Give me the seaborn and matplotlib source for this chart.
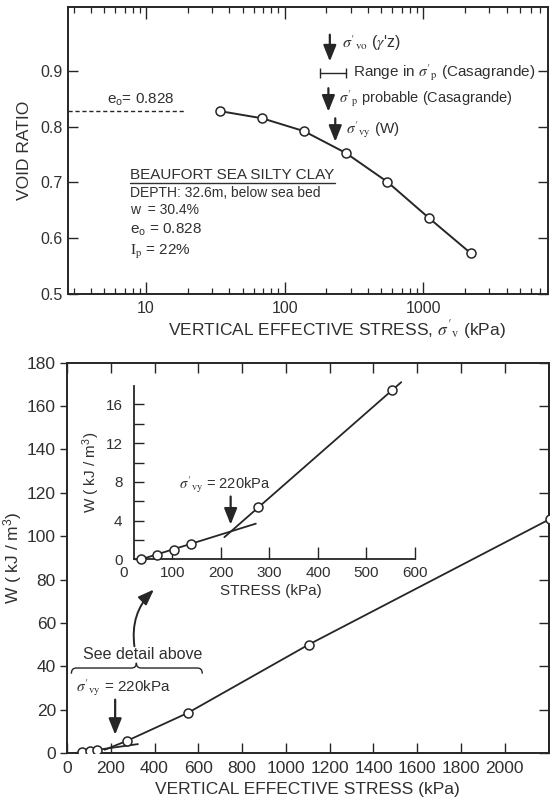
import numpy as np
import pandas as pd
import matplotlib
matplotlib.use("Agg")
import matplotlib.pyplot as plt
import seaborn as sns
from matplotlib.path import Path
from matplotlib.patches import PathPatch
from matplotlib.ticker import NullFormatter, FixedLocator

# ---------------- data ----------------
# oedometer test: void ratio vs vertical effective stress
stress_oed = [34, 69, 138, 276, 552, 1104, 2208]
void_ratio = [0.828, 0.815, 0.792, 0.753, 0.701, 0.636, 0.573]
e0 = 0.828

# strain energy W vs stress (main plot)
main_stress = [69, 103, 138, 276, 552, 1104, 2208]
main_W = [0.3, 0.9, 1.5, 5.7, 18.5, 50.0, 108.0]
main_pre_stress = [36, 324]
main_pre_W = [0.0, 4.1]
main_post_stress = [172, 276, 552, 1104, 2208]
main_post_W = [1.5, 5.7, 18.5, 50.0, 108.0]

# detail (inset)
inset_stress = [34, 69, 103, 138, 276, 552]
inset_W = [0.0, 0.5, 1.0, 1.6, 5.4, 17.5]
inset_pre_stress = [34, 272]
inset_pre_W = [0.0, 3.7]
inset_post_stress = [207, 572]
inset_post_W = [2.3, 18.3]

# characteristic stresses (kPa)
yield_stress = 220
sigma_vo = 212
sigma_p_probable = 207
sigma_p_range = [179, 276]
sigma_vy_marker = 232

top_xticks = [10, 100, 1000]
top_xminor = [m * 10 ** k for k in range(0, 4) for m in range(2, 10)]
top_yticks = [0.5, 0.6, 0.7, 0.8, 0.9]
main_xticks = [0, 200, 400, 600, 800, 1000, 1200, 1400, 1600, 1800, 2000]
main_yticks = [0, 20, 40, 60, 80, 100, 120, 140, 160, 180]
inset_xticks = [0, 100, 200, 300, 400, 500, 600]
inset_yticks = [0, 4, 8, 12, 16]
inset_yminor = [2, 6, 10, 14]

# ---------------- style ----------------
sns.set_theme(style="white")
plt.rcParams["font.family"] = ["Liberation Sans", "DejaVu Sans"]
plt.rcParams["mathtext.fontset"] = "custom"
plt.rcParams["mathtext.rm"] = "Liberation Sans"
plt.rcParams["mathtext.it"] = "Liberation Sans:italic"
ink = "#262626"
txt = "#303030"
plt.rcParams["text.color"] = txt
plt.rcParams["axes.labelcolor"] = txt
plt.rcParams["xtick.color"] = ink
plt.rcParams["ytick.color"] = ink
plt.rcParams["xtick.labelcolor"] = txt
plt.rcParams["ytick.labelcolor"] = txt
plt.rcParams["xtick.bottom"] = True
plt.rcParams["ytick.left"] = True

fig = plt.figure(figsize=(5.5, 8.07), dpi=100)

# ================= TOP: void ratio =================
ax1 = fig.add_axes([0.1236, 0.6357, 0.8727, 0.3556])
ax1.set_xscale("log")
df1 = pd.DataFrame({"stress": stress_oed, "e": void_ratio})
sns.lineplot(data=df1, x="stress", y="e", ax=ax1, color=ink, lw=1.4,
             marker="o", markersize=6.5, markerfacecolor="white",
             markeredgecolor=ink, markeredgewidth=1.1)
ax1.set_xlim(2.73, 7960)
ax1.set_ylim(0.5, 1.0146)
for s in ax1.spines.values():
    s.set_linewidth(1.4)
    s.set_color(ink)
ax1.xaxis.set_major_locator(FixedLocator(top_xticks))
ax1.set_xticklabels([str(v) for v in top_xticks])
ax1.xaxis.set_minor_locator(FixedLocator(top_xminor))
ax1.xaxis.set_minor_formatter(NullFormatter())
ax1.set_yticks(top_yticks)
ax1.set_yticklabels([f"{v:.1f}" for v in top_yticks])
ax1.tick_params(which="both", direction="in", bottom=True, left=True, top=True, right=True,
                labelsize=11.5, width=1)
ax1.tick_params(axis="x", which="major", length=8.5, pad=5)
ax1.tick_params(axis="x", which="minor", length=4.5, width=0.9)
ax1.tick_params(axis="y", which="major", length=7)
ax1.set_ylabel("VOID RATIO", fontsize=12.5)
ax1.yaxis.set_label_coords(-0.075, 0.5)
ax1.set_xlabel(r"VERTICAL EFFECTIVE STRESS, $\sigma'_\mathrm{v}$ (kPa)", fontsize=12.5,
               math_fontfamily="stix")
ax1.xaxis.set_label_coords(0.56, -0.085)

# e0 dashed line
ax1.hlines(e0, xmin=ax1.get_xlim()[0], xmax=19.5, colors=ink, linestyles=(0, (3, 2)), lw=1.0)
ax1.text(5.2, 0.848, r"$\mathrm{e}_\mathrm{o}$= 0.828", fontsize=11, ha="left", va="center")

arrow_kw = dict(arrowstyle="-|>,head_length=0.75,head_width=0.3", color=ink, lw=1.6,
                mutation_scale=13, shrinkA=0, shrinkB=0)
# sigma'_vo
ax1.annotate("", xy=(sigma_vo, 0.917), xytext=(sigma_vo, 0.965), arrowprops=arrow_kw)
ax1.text(259, 0.950, r"$\sigma'_\mathrm{vo}$ ($\gamma$'z)", fontsize=11.5, ha="left", va="center",
         math_fontfamily="stix")
# range
ax1.plot(sigma_p_range, [0.897, 0.897], color=ink, lw=1.0, marker="|", markersize=7, mew=1.0)
ax1.text(314, 0.897, r"Range in $\sigma'_\mathrm{p}$ (Casagrande)", fontsize=11, ha="left",
         va="center", math_fontfamily="stix")
# sigma'_p probable
ax1.annotate("", xy=(sigma_p_probable, 0.827), xytext=(sigma_p_probable, 0.869), arrowprops=arrow_kw)
ax1.text(245, 0.850, r"$\sigma'_\mathrm{p}$ probable (Casagrande)", fontsize=10.5, ha="left",
         va="center", math_fontfamily="stix")
# sigma'_vy (W)
ax1.annotate("", xy=(sigma_vy_marker, 0.773), xytext=(sigma_vy_marker, 0.815), arrowprops=arrow_kw)
ax1.text(276, 0.795, r"$\sigma'_\mathrm{vy}$ (W)", fontsize=11, ha="left", va="center",
         math_fontfamily="stix")

# soil description block
title_t = ax1.text(7.7, 0.713, "BEAUFORT SEA SILTY CLAY", fontsize=11, ha="left", va="center")
ax1.text(7.7, 0.681, "DEPTH: 32.6m, below sea bed", fontsize=10, ha="left", va="center")
ax1.text(7.7, 0.651, "w  = 30.4%", fontsize=10, ha="left", va="center")
ax1.text(7.7, 0.616, r"$\mathrm{e}_\mathrm{o}$ = 0.828", fontsize=11, ha="left", va="center")
ax1.text(7.7, 0.575, r"$\mathrm{I}_\mathrm{p}$ = 22%", fontsize=11, ha="left", va="center",
         math_fontfamily="stix")

# ================= BOTTOM: W vs stress =================
ax2 = fig.add_axes([0.1218, 0.0669, 0.8756, 0.4836])
sns.lineplot(x=main_post_stress, y=main_post_W, ax=ax2, color=ink, lw=1.3, sort=False)
sns.lineplot(x=main_pre_stress, y=main_pre_W, ax=ax2, color=ink, lw=1.3, sort=False)
sns.scatterplot(x=main_stress, y=main_W, ax=ax2, marker="o", s=42, facecolor="white",
                edgecolor=ink, linewidth=1.1, zorder=4)
ax2.set_xlim(0, 2200)
ax2.set_ylim(0, 180)
for s in ax2.spines.values():
    s.set_linewidth(1.4)
    s.set_color(ink)
ax2.set_xticks(main_xticks)
ax2.set_xticklabels([str(v) for v in main_xticks])
ax2.set_yticks(main_yticks)
ax2.set_yticklabels([str(v) for v in main_yticks])
ax2.tick_params(axis="x", direction="in", bottom=True, top=True, length=7, width=1,
                labelsize=12.5, pad=6)
ax2.tick_params(axis="y", direction="out", left=True, right=False, length=5, width=1,
                labelsize=12.5, pad=3)
sec = ax2.secondary_yaxis("right")
sec.set_yticks(main_yticks)
sec.tick_params(direction="in", right=True, length=7, width=1, labelright=False)
sec.spines["right"].set_linewidth(1.4)
ax2.set_xlabel("VERTICAL EFFECTIVE STRESS (kPa)", fontsize=12.5)
ax2.xaxis.set_label_coords(0.50, -0.075)
ax2.set_ylabel(r"W ( kJ / m$^3$)", fontsize=12.5)
ax2.yaxis.set_label_coords(-0.09, 0.5)

# "See detail above" with brace
ax2.text(347, 45.4, "See detail above", fontsize=11.5, ha="center", va="center")
xL, xR, xc = 20, 618, 317
yE, yH, yT = 36.6, 39.2, 41.6
cx = 22
verts = [(xL, yE), (xL, yH), (xL + cx, yH), (xc - cx, yH), (xc, yH), (xc, yT),
         (xc, yH), (xc + cx, yH), (xR - cx, yH), (xR, yH), (xR, yE)]
codes = [Path.MOVETO, Path.CURVE3, Path.CURVE3, Path.LINETO, Path.CURVE3, Path.CURVE3,
         Path.CURVE3, Path.CURVE3, Path.LINETO, Path.CURVE3, Path.CURVE3]
ax2.add_patch(PathPatch(Path(verts, codes), fill=False, edgecolor=ink, lw=1.0))
ax2.annotate("", xy=(397, 75.4), xytext=(308, 49.2),
             arrowprops=dict(arrowstyle="-|>,head_length=0.8,head_width=0.3", color=ink, lw=1.4,
                             mutation_scale=12, shrinkA=0, shrinkB=0,
                             connectionstyle="arc3,rad=-0.25"))
ax2.text(257, 30, r"$\sigma'_\mathrm{vy}$ = 220kPa", fontsize=11, ha="center", va="center",
         math_fontfamily="stix")
ax2.annotate("", xy=(yield_stress, 8.4), xytext=(yield_stress, 24.6), arrowprops=arrow_kw)

# ================= INSET =================
ax3 = fig.add_axes([0.2255, 0.3067, 0.5287, 0.2149], facecolor="none")
sns.lineplot(x=inset_pre_stress, y=inset_pre_W, ax=ax3, color=ink, lw=1.3, sort=False)
sns.lineplot(x=inset_post_stress, y=inset_post_W, ax=ax3, color=ink, lw=1.3, sort=False)
for ln in ax3.lines:
    ln.set_clip_on(False)
sns.scatterplot(x=inset_stress, y=inset_W, ax=ax3, marker="o", s=42, facecolor="white",
                edgecolor=ink, linewidth=1.1, zorder=4, clip_on=False)
ax3.set_xlim(0, 600)
ax3.set_ylim(0, 17.9)
ax3.spines["top"].set_visible(False)
ax3.spines["right"].set_visible(False)
ax3.spines["left"].set_position(("data", 20))
ax3.spines["bottom"].set_bounds(20, 600)
for k in ("left", "bottom"):
    ax3.spines[k].set_linewidth(1.3)
    ax3.spines[k].set_color(ink)
ax3.set_xticks(inset_xticks)
ax3.set_xticklabels([str(v) for v in inset_xticks])
ax3.set_yticks(inset_yticks)
ax3.set_yticklabels([str(v) for v in inset_yticks])
ax3.set_yticks(inset_yminor, minor=True)
ax3.tick_params(axis="x", direction="in", bottom=True, top=False, length=9, width=1,
                labelsize=11, pad=5)
ax3.tick_params(axis="y", which="both", direction="in", left=True, right=False, length=7,
                width=1, labelsize=11, pad=8)
ax3.xaxis.get_major_ticks()[0].tick1line.set_visible(False)
ax3.set_xlabel("STRESS (kPa)", fontsize=11)
ax3.xaxis.set_label_coords(0.505, -0.14)
ax3.set_ylabel(r"W ( kJ / m$^3$)", fontsize=11)
ax3.yaxis.set_label_coords(-0.075, 0.5)
ax3.text(208, 7.7, r"$\sigma'_\mathrm{vy}$ = 220kPa", fontsize=10.5, ha="center", va="center",
         math_fontfamily="stix")
ax3.annotate("", xy=(yield_stress, 3.6), xytext=(yield_stress, 6.5), arrowprops=arrow_kw)

# underline for the soil title
fig.canvas.draw()
r = fig.canvas.get_renderer()
bb = title_t.get_window_extent(renderer=r)
inv = ax1.transAxes.inverted()
(x0, y0), (x1, y1) = inv.transform([(bb.x0, bb.y0), (bb.x1, bb.y1)])
ax1.plot([x0, x1], [y0 - 0.004, y0 - 0.004], transform=ax1.transAxes, color=txt, lw=1.0)

fig.savefig("out.png", dpi=100)
